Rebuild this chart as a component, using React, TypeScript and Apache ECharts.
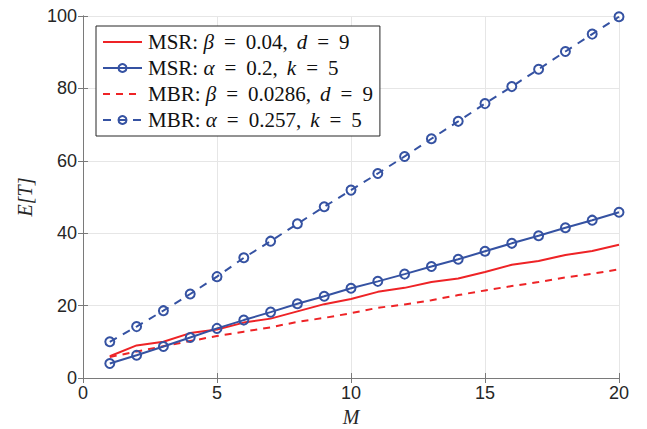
import React, { useEffect, useRef } from "react";
import * as echarts from "echarts";

const M = [1, 2, 3, 4, 5, 6, 7, 8, 9, 10, 11, 12, 13, 14, 15, 16, 17, 18, 19, 20];
const msrBeta = [6.0, 9.0, 10.0, 12.4, 13.4, 15.3, 16.4, 18.4, 20.4, 21.8, 23.8, 24.9, 26.5, 27.5, 29.3, 31.3, 32.3, 34.0, 35.1, 36.8];
const msrAlpha = [4.0, 6.3, 8.7, 11.2, 13.7, 16.0, 18.2, 20.5, 22.6, 24.8, 26.7, 28.7, 30.8, 32.8, 35.0, 37.2, 39.3, 41.5, 43.6, 45.8];
const mbrBeta = [5.8, 7.3, 8.8, 10.2, 11.6, 12.8, 14.0, 15.5, 16.6, 17.9, 19.4, 20.3, 21.5, 22.9, 24.2, 25.4, 26.5, 27.8, 28.8, 30.0];
const mbrAlpha = [10.0, 14.2, 18.6, 23.2, 28.0, 33.2, 37.8, 42.6, 47.3, 51.9, 56.5, 61.2, 66.1, 70.9, 75.8, 80.5, 85.3, 90.2, 95.0, 99.8];
const seriesNames = [
  "MSR: β = 0.04, d = 9",
  "MSR: α = 0.2, k = 5",
  "MBR: β = 0.0286, d = 9",
  "MBR: α = 0.257, k = 5",
];
const legendRich = [
  "{n|MSR: }{i|β}{o|=}{n|0.04}{c|,}{i|d}{o|=}{n|9}",
  "{n|MSR: }{i|α}{o|=}{n|0.2}{c|,}{i|k}{o|=}{n|5}",
  "{n|MBR: }{i|β}{o|=}{n|0.0286}{c|,}{i|d}{o|=}{n|9}",
  "{n|MBR: }{i|α}{o|=}{n|0.257}{c|,}{i|k}{o|=}{n|5}",
];
const xTicks = [0, 5, 10, 15, 20];
const yTicks = [0, 20, 40, 60, 80, 100];

const RED = "#ee2326";
const BLUE = "#3552a2";
const AXIS = "#7a7a7a";
const LABEL = "#262626";
const SERIF = "Liberation Serif, Times New Roman, serif";
const SANS = "Liberation Sans, Arial, sans-serif";

export default function App() {
  const ref = useRef<HTMLDivElement>(null);
  useEffect(() => {
    if (!ref.current) return;
    const chart = echarts.init(ref.current, null, { renderer: "svg" });
    const pair = (arr: number[]) => M.map((m, i) => [m, arr[i]]);
    const axisCommon = {
      axisLine: { show: true, lineStyle: { color: AXIS, width: 1 } },
      axisTick: { show: true, inside: true, length: 5, lineStyle: { color: AXIS } },
    };
    const hollow = { color: "rgba(255,255,255,0)", borderColor: BLUE, borderWidth: 2 };
    const txt = { fontSize: 21, fontFamily: SERIF, color: "#111", lineHeight: 22 };
    const option: any = {
      animation: false,
      backgroundColor: "#ffffff",
      grid: { left: 83, right: 28, top: 16, bottom: 51, show: false, outerBoundsMode: "none", containLabel: false },
      legend: {
        left: 96,
        top: 26,
        orient: "vertical",
        backgroundColor: "#ffffff",
        borderColor: "#262626",
        borderWidth: 1,
        borderRadius: 0,
        padding: [5, 7, 5, 6],
        itemGap: 4,
        itemWidth: 39,
        itemHeight: 10,
        data: [
          { name: seriesNames[0], itemStyle: { opacity: 0 } },
          { name: seriesNames[1] },
          { name: seriesNames[2], itemStyle: { opacity: 0 } },
          { name: seriesNames[3] },
        ],
        formatter: (name: string) => legendRich[seriesNames.indexOf(name)],
        textStyle: {
          ...txt,
          padding: [0, 0, 0, 1],
          rich: {
            n: { ...txt },
            i: { ...txt, fontStyle: "italic" },
            o: { ...txt, padding: [0, 10, 0, 10] },
            c: { ...txt, padding: [0, 9, 0, 0] },
          },
        },
      },
      xAxis: [
        {
          type: "value",
          min: 0,
          max: 20,
          interval: 5,
          name: "M",
          nameLocation: "middle",
          nameGap: 29,
          nameTextStyle: { fontFamily: SERIF, fontStyle: "italic", fontSize: 20, color: LABEL },
          axisLabel: {
            fontSize: 18,
            fontFamily: SANS,
            color: LABEL,
            margin: 6,
            customValues: xTicks,
          },
          splitLine: { show: true, lineStyle: { color: "#e6e6e6", width: 1 } },
          ...axisCommon,
        },
        {
          type: "value",
          position: "top",
          min: 0,
          max: 20,
          interval: 5,
          axisLabel: { show: false },
          splitLine: { show: false },
          ...axisCommon,
        },
      ],
      yAxis: [
        {
          type: "value",
          min: 0,
          max: 100,
          interval: 20,
          name: "E[T]",
          nameLocation: "middle",
          nameGap: 48,
          nameTextStyle: { fontFamily: SERIF, fontStyle: "italic", fontSize: 20, color: LABEL },
          axisLabel: {
            fontSize: 18,
            fontFamily: SANS,
            color: LABEL,
            margin: 6,
            customValues: yTicks,
          },
          splitLine: { show: true, lineStyle: { color: "#e6e6e6", width: 1 } },
          ...axisCommon,
        },
        {
          type: "value",
          position: "right",
          min: 0,
          max: 100,
          interval: 20,
          axisLabel: { show: false },
          splitLine: { show: false },
          ...axisCommon,
        },
      ],
      series: [
        {
          name: seriesNames[0],
          type: "line",
          data: pair(msrBeta),
          symbol: "circle",
          showSymbol: false,
          lineStyle: { color: RED, width: 2 },
          itemStyle: { color: RED },
          z: 3,
        },
        {
          name: seriesNames[1],
          type: "line",
          data: pair(msrAlpha),
          symbol: "circle",
          symbolSize: 9,
          lineStyle: { color: BLUE, width: 2 },
          itemStyle: hollow,
          z: 4,
        },
        {
          name: seriesNames[2],
          type: "line",
          data: pair(mbrBeta),
          symbol: "circle",
          showSymbol: false,
          lineStyle: { color: RED, width: 2, type: [7, 6] },
          itemStyle: { color: RED },
          z: 2,
        },
        {
          name: seriesNames[3],
          type: "line",
          data: pair(mbrAlpha),
          symbol: "circle",
          symbolSize: 9,
          lineStyle: { color: BLUE, width: 2, type: [8, 7] },
          itemStyle: hollow,
          z: 4,
        },
      ],
    };
    chart.setOption(option);
    return () => chart.dispose();
  }, []);
  return <div ref={ref} style={{ width: 647, height: 429, position: "absolute", left: 0, top: 0 }} />;
}
